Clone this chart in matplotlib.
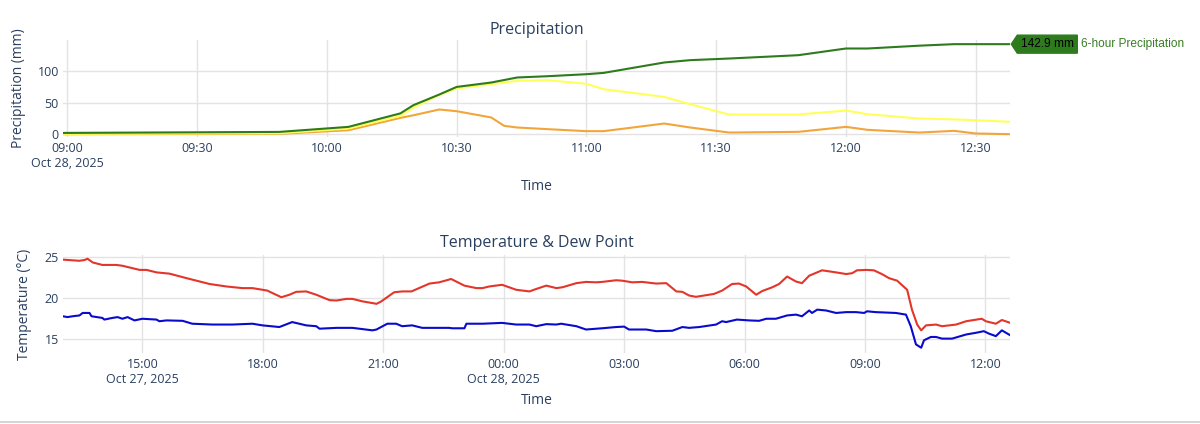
import matplotlib
matplotlib.use("Agg")
import matplotlib.pyplot as plt
import matplotlib.dates as mdates
from matplotlib.patches import Polygon
from matplotlib.lines import Line2D
from matplotlib.transforms import IdentityTransform
import numpy as np
import pandas as pd

# precipitation, minutes after 2025-10-28 09:00
precip_min = [-1, 49, 65, 77, 80, 86, 90, 98, 101, 104, 111, 120, 124, 138, 144,
              153, 169, 180, 185, 197, 205, 210, 218]
precip_6h = [2.0, 3.6, 11.6, 33.0, 46.0, 63.0, 75.0, 82.0, 86.0, 90.0, 92.0, 95.2, 97.3,
             113.8, 117.5, 120.1, 125.4, 136.0, 136.0, 140.5, 142.9, 142.9, 142.9]
precip_3h = [0.5, 1.5, 9.0, 29.0, 42.0, 62.0, 72.5, 79.4, 82.0, 84.6, 85.7, 80.0, 71.4,
             59.2, 47.6, 31.2, 31.2, 37.6, 31.7, 24.9, 23.5, 22.2, 19.6]
precip_1h = [0.0, 0.5, 6.3, 25.9, 30.0, 39.2, 36.5, 26.5, 13.2, 10.6, 8.0, 4.8, 4.8,
             16.9, 10.6, 2.6, 3.7, 11.6, 6.9, 2.6, 5.3, 1.1, 0.0]

# temperature, hours after 2025-10-27 00:00
temp_hr = [13.02, 13.43, 13.56, 13.63, 13.76, 14.00, 14.35, 14.50, 14.93, 15.10, 15.35, 15.67,
           16.10, 16.67, 17.09, 17.49, 17.74, 17.99, 18.11, 18.24, 18.46, 18.66, 18.83, 19.08,
           19.33, 19.66, 19.83, 20.08, 20.23, 20.48, 20.78, 20.83, 20.95, 21.27, 21.47, 21.70,
           22.15, 22.39, 22.69, 23.02, 23.32, 23.47, 23.64, 23.96, 24.31, 24.64, 24.81, 25.06,
           25.31, 25.46, 25.81, 26.05, 26.30, 26.45, 26.80, 26.95, 27.20, 27.45, 27.80, 28.05,
           28.30, 28.45, 28.62, 28.79, 29.24, 29.44, 29.69, 29.86, 30.04, 30.29, 30.44, 30.69,
           30.86, 31.06, 31.28, 31.43, 31.61, 31.93, 32.28, 32.53, 32.68, 32.80, 33.03, 33.22,
           33.42, 33.60, 33.80, 34.05, 34.17, 34.30, 34.40, 34.52, 34.77, 34.92, 35.27, 35.52,
           35.91, 36.01, 36.26, 36.41, 36.62]
temp_c = [24.64, 24.5, 24.6, 24.75, 24.3, 24.0, 24.0, 23.9, 23.4, 23.4, 23.1, 22.95,
          22.4, 21.7, 21.4, 21.2, 21.2, 21.0, 20.9, 20.6, 20.1, 20.4, 20.75, 20.8,
          20.4, 19.75, 19.7, 19.9, 19.9, 19.6, 19.35, 19.3, 19.6, 20.7, 20.8, 20.8,
          21.75, 21.9, 22.3, 21.5, 21.2, 21.2, 21.4, 21.6, 21.0, 20.8, 21.1, 21.5,
          21.2, 21.3, 21.8, 21.95, 21.9, 21.95, 22.15, 22.1, 21.9, 21.95, 21.75, 21.8,
          20.8, 20.75, 20.3, 20.15, 20.5, 20.9, 21.7, 21.75, 21.4, 20.4, 20.85, 21.3,
          21.7, 22.6, 22.0, 21.8, 22.7, 23.35, 23.1, 22.9, 23.0, 23.35, 23.4, 23.35,
          22.9, 22.4, 22.1, 21.0, 18.6, 16.8, 16.1, 16.7, 16.8, 16.6, 16.8, 17.2,
          17.5, 17.2, 16.9, 17.35, 17.0]

dew_hr = [13.02, 13.13, 13.26, 13.43, 13.51, 13.68, 13.73, 14.00, 14.05, 14.25, 14.38, 14.50,
          14.63, 14.80, 15.00, 15.35, 15.42, 15.60, 16.00, 16.24, 16.74, 17.24, 17.74, 17.99,
          18.41, 18.73, 19.08, 19.33, 19.41, 19.83, 20.23, 20.73, 20.83, 21.10, 21.32, 21.47,
          21.72, 21.97, 22.39, 22.64, 22.72, 23.02, 23.07, 23.47, 23.96, 24.31, 24.64, 24.81,
          25.06, 25.31, 25.43, 25.81, 26.05, 26.45, 26.80, 27.00, 27.12, 27.55, 27.80, 28.20,
          28.45, 28.62, 28.87, 29.29, 29.44, 29.54, 29.81, 30.11, 30.36, 30.54, 30.78, 31.06,
          31.28, 31.43, 31.61, 31.68, 31.81, 32.03, 32.28, 32.53, 32.78, 32.98, 33.05, 33.27,
          33.77, 34.02, 34.14, 34.27, 34.40, 34.47, 34.64, 34.77, 34.92, 35.17, 35.52, 35.76,
          35.96, 36.09, 36.26, 36.41, 36.62]
dew_c = [17.8, 17.7, 17.8, 17.9, 18.2, 18.2, 17.8, 17.6, 17.4, 17.6, 17.7, 17.5,
         17.7, 17.3, 17.5, 17.4, 17.2, 17.3, 17.25, 16.9, 16.8, 16.8, 16.9, 16.7,
         16.5, 17.1, 16.7, 16.6, 16.3, 16.4, 16.4, 16.1, 16.2, 16.9, 16.9, 16.6,
         16.7, 16.4, 16.4, 16.4, 16.35, 16.35, 16.9, 16.9, 17.0, 16.8, 16.8, 16.6,
         16.85, 16.8, 16.9, 16.6, 16.2, 16.35, 16.5, 16.55, 16.2, 16.2, 16.0, 16.05,
         16.5, 16.4, 16.5, 16.8, 17.2, 17.1, 17.4, 17.3, 17.25, 17.5, 17.5, 17.9,
         18.0, 17.8, 18.5, 18.2, 18.6, 18.5, 18.2, 18.3, 18.3, 18.2, 18.4, 18.3,
         18.2, 18.0, 16.6, 14.4, 14.0, 14.9, 15.3, 15.3, 15.1, 15.1, 15.6, 15.8,
         16.0, 15.7, 15.4, 16.1, 15.5]

precip_ticks = ['09:00', '09:30', '10:00', '10:30', '11:00', '11:30', '12:00', '12:30']
temp_ticks = ['2025-10-27 15:00', '2025-10-27 18:00', '2025-10-27 21:00', '2025-10-28 00:00',
              '2025-10-28 03:00', '2025-10-28 06:00', '2025-10-28 09:00', '2025-10-28 12:00']

TXT = '#2a3f5f'
GRID = '#e3e3e3'
GREEN = '#2e7b1d'
W, H = 1200, 424

plt.rcParams['font.family'] = ['Open Sans', 'DejaVu Sans']

fig = plt.figure(figsize=(W / 100, H / 100), dpi=100)


def pix_axes(l, t, r, b):
    return fig.add_axes([l / W, 1 - b / H, (r - l) / W, (b - t) / H])


ax1 = pix_axes(63, 40, 1010.3, 136.7)
ax2 = pix_axes(63, 255, 1010.3, 352.7)

for ax in (ax1, ax2):
    for s in ax.spines.values():
        s.set_visible(False)
    ax.grid(True, color=GRID, linewidth=1)
    ax.set_axisbelow(True)
    ax.tick_params(length=0, labelsize=9, labelcolor=TXT)
    ax.tick_params(axis='x', pad=3.5)
    ax.tick_params(axis='y', pad=3)

# --- precipitation
p_base = pd.Timestamp('2025-10-28 09:00')
p_time = p_base + pd.to_timedelta(precip_min, unit='m')
ax1.plot(p_time, precip_1h, color='#f2a53a', lw=1.5)
ax1.plot(p_time, precip_3h, color='#ffff5c', lw=1.5)
ax1.plot(p_time, precip_6h, color=GREEN, lw=1.5)
ax1.set_xlim(p_time[0], p_time[-1])
ax1.set_ylim(-4, 149.5)
ax1.set_yticks([0, 50, 100])
pt = [pd.Timestamp('2025-10-28 ' + s) for s in precip_ticks]
ax1.set_xticks(pt)
ax1.set_xticklabels([s + ('\nOct 28, 2025' if i == 0 else '') for i, s in enumerate(precip_ticks)])

# --- temperature
t_base = pd.Timestamp('2025-10-27 00:00')
t_time = t_base + pd.to_timedelta(temp_hr, unit='h')
d_time = t_base + pd.to_timedelta(dew_hr, unit='h')
ax2.plot(t_time, temp_c, color='#e3352a', lw=1.5)
ax2.plot(d_time, dew_c, color='#0a0acd', lw=1.5)
ax2.set_xlim(t_time[0], t_time[-1])
ax2.set_ylim(13.4, 25.2)
ax2.set_yticks([15, 20, 25])
tt = [pd.Timestamp(s) for s in temp_ticks]
ax2.set_xticks(tt)
labs = []
for ts in tt:
    lab = ts.strftime('%H:%M')
    if ts.hour == 0 or ts == tt[0]:
        lab += '\n' + ts.strftime('%b %d, %Y')
    labs.append(lab)
ax2.set_xticklabels(labs)

# titles and axis labels
cx = (63 + 1010.3) / 2 / W
fig.text(cx, 1 - 30 / H, 'Precipitation', ha='center', va='center', fontsize=11.5, color=TXT)
fig.text(cx, 1 - 243 / H, 'Temperature & Dew Point', ha='center', va='center', fontsize=11.5, color=TXT)
fig.text(cx, 1 - 187 / H, 'Time', ha='center', va='center', fontsize=10, color=TXT)
fig.text(cx, 1 - 401 / H, 'Time', ha='center', va='center', fontsize=10, color=TXT)
fig.text(19 / W, 1 - 88 / H, 'Precipitation (mm)', rotation=90, ha='center', va='center', fontsize=10, color=TXT)
fig.text(25 / W, 1 - 304 / H, 'Temperature (°C)', rotation=90, ha='center', va='center', fontsize=10, color=TXT)

# label at last 6-hour value
fig.canvas.draw()
tx, ty = ax1.transData.transform((mdates.date2num(p_time[-1]), precip_6h[-1]))
tx += 1
box = np.array([[0, 0], [6, 9], [66, 9], [66, -9], [6, -9]]) + [tx, ty]
fig.add_artist(Polygon(box, closed=True, facecolor=GREEN, edgecolor=GREEN,
                       transform=IdentityTransform(), clip_on=False))
fig.text((tx + 36) / W, ty / H, '%.1f mm' % precip_6h[-1], ha='center', va='center',
         fontsize=8.6, color='black', family='Liberation Sans')
fig.text((tx + 70) / W, ty / H, '6-hour Precipitation', ha='left', va='center',
         fontsize=8.6, color='#3a7d25', family='Liberation Sans')

fig.add_artist(Line2D([0, 1], [1 - 422 / H, 1 - 422 / H], transform=fig.transFigure,
                      color='#d6d6d6', lw=1.5))

fig.savefig('out.png', dpi=100)
